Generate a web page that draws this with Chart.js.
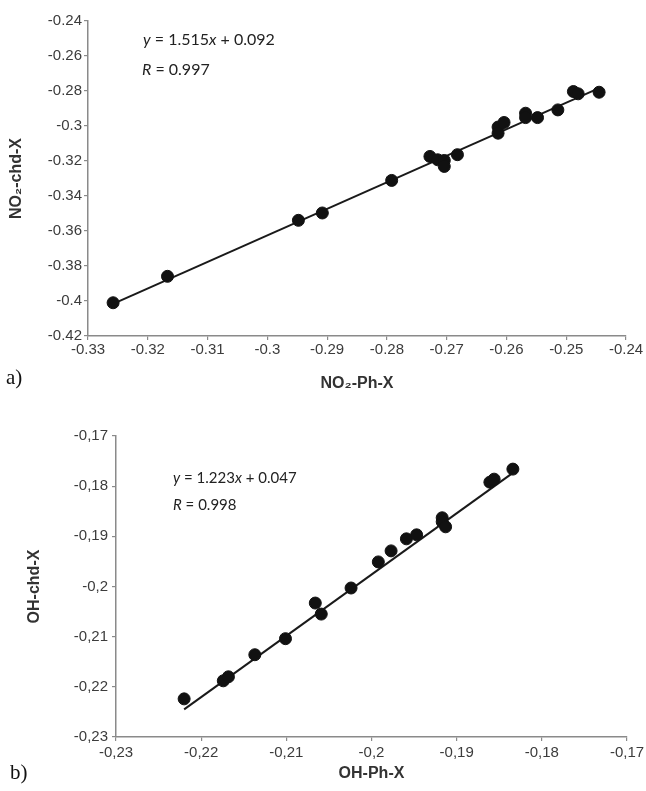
<!DOCTYPE html>
<html>
<head>
<meta charset="utf-8">
<script src="https://cdn.jsdelivr.net/npm/chart.js@4.4.0/dist/chart.umd.min.js"></script>
<style>
  body { margin: 0; background: #fff; }
  #page { position: relative; width: 646px; height: 791px; overflow: hidden; }
  .box { position: absolute; left: 0; width: 646px; }
  .eq { position: absolute; font-family: Lato, "Open Sans", sans-serif; font-size: 16px; color: #222; white-space: nowrap; }
  .tag { position: absolute; font-family: "Liberation Serif", "DejaVu Serif", serif; font-size: 21px; color: #111; }
</style>
</head>
<body>
<div id="page">
  <div class="box" style="top:0;height:395px"><canvas id="chart_a" width="646" height="395"></canvas></div>
  <div class="box" style="top:395px;height:396px"><canvas id="chart_b" width="646" height="396"></canvas></div>
  <div class="eq" style="left:143px;top:29px"><i>y</i> = 1.515<i>x</i> + 0.092</div>
  <div class="eq" style="left:142px;top:59px"><i>R</i> = 0.997</div>
  <div class="eq" style="left:173px;top:468px;font-size:15px"><i>y</i> = 1.223<i>x</i> + 0.047</div>
  <div class="eq" style="left:173px;top:495px;font-size:15px"><i>R</i> = 0.998</div>
  <div class="tag" style="left:6px;top:365px">a)</div>
  <div class="tag" style="left:10px;top:760px">b)</div>
</div>
<script>
// a) NO2 probe
var no2PhX  = [-0.3258, -0.3167, -0.2948, -0.2908, -0.2792, -0.2728, -0.2715, -0.2704, -0.2704, -0.2682,
               -0.2614, -0.2614, -0.2604, -0.2568, -0.2568, -0.2548, -0.2514, -0.2488, -0.2480, -0.2445];
var no2ChdX = [-0.4010, -0.3859, -0.3539, -0.3497, -0.3311, -0.3174, -0.3193, -0.3197, -0.3231, -0.3164,
               -0.3006, -0.3041, -0.2980, -0.2927, -0.2952, -0.2952, -0.2908, -0.2803, -0.2816, -0.2807];
var no2FitX = [-0.3260, -0.2445];
var no2FitY = [-0.4019, -0.2784];
var xTicksA = [-0.33, -0.32, -0.31, -0.30, -0.29, -0.28, -0.27, -0.26, -0.25, -0.24];
var yTicksA = [-0.42, -0.40, -0.38, -0.36, -0.34, -0.32, -0.30, -0.28, -0.26, -0.24];

// b) OH probe
var ohPhX  = [-0.2220, -0.2174, -0.2168, -0.2137, -0.2101, -0.2066, -0.2059, -0.2024, -0.1992, -0.1977,
              -0.1959, -0.1947, -0.1917, -0.1917, -0.1913, -0.1861, -0.1856, -0.1834];
var ohChdX = [-0.2224, -0.2188, -0.2180, -0.2136, -0.2104, -0.2033, -0.2055, -0.2003, -0.1951, -0.1929,
              -0.1905, -0.1897, -0.1863, -0.1871, -0.1881, -0.1792, -0.1786, -0.1766];
var ohFitX = [-0.2220, -0.1832];
var ohFitY = [-0.2245, -0.1771];
var xTicksB = [-0.23, -0.22, -0.21, -0.20, -0.19, -0.18, -0.17];
var yTicksB = [-0.23, -0.22, -0.21, -0.20, -0.19, -0.18, -0.17];

function pairs(xs, ys) {
    return xs.map(function(x, i) { return {x: x, y: ys[i]}; });
}

function fmt(v, comma) {
    var s = String(Math.round(v * 100) / 100);
    return comma ? s.replace('.', ',') : s;
}

function axis(opts) {
    return {
        type: 'linear',
        position: opts.position,
        min: opts.ticks[0],
        max: opts.ticks[opts.ticks.length - 1],
        afterBuildTicks: function(scale) {
            scale.ticks = opts.ticks.map(function(v) { return {value: v}; });
        },
        afterFit: function(scale) {
            if (opts.position == 'bottom') scale.height = opts.size;
            else scale.width = opts.size;
            scale.paddingLeft = 0;
            scale.paddingRight = 0;
        },
        border: { display: true, color: '#8a8a8a', width: 1.5 },
        grid: { drawOnChartArea: false, drawTicks: true, tickLength: 4, color: '#8a8a8a', lineWidth: 1.2 },
        ticks: {
            padding: opts.tickPad,
            maxRotation: 0,
            autoSkip: false,
            color: '#3c3c3c',
            font: { family: '"Liberation Sans", Arial, sans-serif', size: 15 },
            callback: function(value) { return fmt(value, opts.comma); }
        },
        title: {
            display: true,
            text: opts.title,
            color: '#333',
            font: { family: '"Liberation Sans", Arial, sans-serif', size: 16, weight: 'bold' },
            padding: opts.titlePad
        }
    };
}

function makeChart(id, pts, fit, pad, xs, ys) {
    return new Chart(document.getElementById(id), {
        type: 'scatter',
        data: {
            datasets: [{
                label: 'data',
                data: pts,
                backgroundColor: '#111',
                borderColor: '#111',
                pointRadius: 6,
                pointHoverRadius: 6,
                order: 1
            }, {
                type: 'line',
                label: 'fit',
                data: fit,
                borderColor: '#1a1a1a',
                borderWidth: 2,
                pointRadius: 0,
                fill: false,
                order: 2
            }]
        },
        options: {
            responsive: false,
            animation: false,
            layout: { padding: pad },
            plugins: { legend: { display: false }, tooltip: { enabled: false } },
            scales: { x: xs, y: ys }
        }
    });
}

var chartA = makeChart('chart_a', pairs(no2PhX, no2ChdX), pairs(no2FitX, no2FitY),
    { left: 0, top: 21, right: 20, bottom: 0 },
    axis({ position: 'bottom', ticks: xTicksA, size: 59, tickPad: 1, comma: false,
           title: 'NO\u2082-Ph-X', titlePad: { top: 0, bottom: 2 } }),
    axis({ position: 'left', ticks: yTicksA, size: 88, tickPad: 2, comma: false,
           title: 'NO\u2082-chd-X', titlePad: { top: 7, bottom: 0 } }));

var chartB = makeChart('chart_b', pairs(ohPhX, ohChdX), pairs(ohFitX, ohFitY),
    { left: 0, top: 41, right: 19, bottom: 0 },
    axis({ position: 'bottom', ticks: xTicksB, size: 54, tickPad: 3, comma: true,
           title: 'OH-Ph-X', titlePad: { top: 0, bottom: 8 } }),
    axis({ position: 'left', ticks: yTicksB, size: 116, tickPad: 4, comma: true,
           title: 'OH-chd-X', titlePad: { top: 25, bottom: 0 } }));
</script>
</body>
</html>
